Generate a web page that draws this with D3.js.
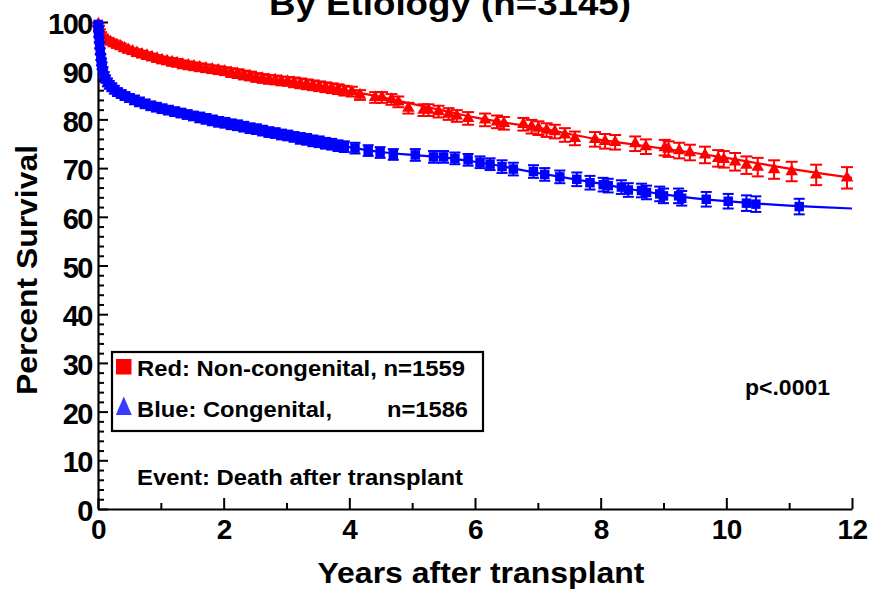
<!DOCTYPE html>
<html>
<head>
<meta charset="utf-8">
<script src="https://cdn.jsdelivr.net/npm/d3@7"></script>
<style>
  html, body { margin: 0; padding: 0; background: #fff; }
  svg { display: block; }
  text { font-family: "Liberation Sans", Arial, sans-serif; font-weight: bold; fill: #000; }
</style>
</head>
<body>
<svg id="chart" width="873" height="591"></svg>
<script>
// ---------- DATA ----------
const titleText = "By Etiology (n=3145)";
const xTitle = "Years after transplant";
const yTitle = "Percent Survival";
const xMajorTicks = [0, 2, 4, 6, 8, 10, 12];
const xMinorTicks = [1, 3, 5, 7, 9, 11];
const yMajorTicks = [0, 10, 20, 30, 40, 50, 60, 70, 80, 90, 100];
const yMinorTicks = [2,4,6,8,12,14,16,18,22,24,26,28,32,34,36,38,42,44,46,48,52,54,56,58,62,64,66,68,72,74,76,78,82,84,86,88,92,94,96,98];

// Non-congenital (red): [years, percent survival, error half-width]
const redPoints = [
  [0.005,99.6,0.3],[0.015,98.8,0.4],[0.03,98.0,0.5],[0.05,97.4,0.5],[0.08,96.9,0.5],[0.11,96.5,0.5],
  [0.15,96.2,0.5],[0.2,95.9,0.5],[0.25,95.6,0.6],[0.3,95.3,0.6],[0.36,95.0,0.6],[0.42,94.6,0.6],
  [0.48,94.3,0.6],[0.55,94.0,0.6],[0.62,93.7,0.7],[0.7,93.4,0.7],[0.78,93.1,0.7],[0.86,92.8,0.7],
  [0.94,92.5,0.7],[1.02,92.2,0.7],[1.1,92.0,0.7],[1.18,91.8,0.8],[1.26,91.6,0.8],[1.35,91.3,0.8],
  [1.44,91.1,0.8],[1.53,90.9,0.8],[1.62,90.7,0.8],[1.72,90.5,0.8],[1.82,90.3,0.8],[1.92,90.1,0.8],
  [2.02,89.9,0.8],[2.12,89.6,0.9],[2.22,89.4,0.9],[2.32,89.1,0.9],[2.42,88.9,0.9],[2.52,88.6,0.9],
  [2.62,88.4,0.9],[2.72,88.2,0.9],[2.82,88.1,0.9],[2.92,87.9,0.9],[3.02,87.8,0.9],[3.12,87.6,1.0],
  [3.22,87.4,1.0],[3.32,87.2,1.0],[3.42,87.0,1.0],[3.52,86.8,1.0],[3.62,86.6,1.0],[3.72,86.4,1.0],
  [3.82,86.2,1.0],[3.92,85.9,1.0],[4.04,85.7,1.0],[4.17,85.0,1.0],[4.41,84.5,1.1],[4.52,84.5,1.1],
  [4.67,84.1,1.1],[4.78,83.6,1.1],[4.94,82.3,1.1],[5.18,81.9,1.2],[5.26,81.9,1.2],[5.42,81.6,1.2],
  [5.58,81.1,1.2],[5.71,80.7,1.2],[5.89,80.2,1.3],[6.16,79.9,1.3],[6.35,79.5,1.3],[6.46,79.2,1.3],
  [6.77,79.0,1.3],[6.9,78.5,1.4],[7.01,78.2,1.4],[7.14,77.8,1.4],[7.27,77.5,1.4],[7.43,76.8,1.4],
  [7.59,76.1,1.4],[7.91,75.9,1.5],[8.07,75.5,1.5],[8.23,75.3,1.5],[8.55,75.0,1.5],[8.72,74.4,1.5],
  [9.02,74.2,1.6],[9.08,73.9,1.6],[9.25,73.6,1.6],[9.42,73.2,1.6],[9.66,72.7,1.7],[9.87,72.0,1.7],
  [9.96,71.8,1.7],[10.14,71.3,1.8],[10.32,70.6,1.8],[10.5,70.2,1.9],[10.76,69.7,1.9],[11.04,69.3,2.0],
  [11.43,68.6,2.1],[11.92,68.0,2.2]
];
// Congenital (blue): [years, percent survival, error half-width]
const bluePoints = [
  [0.003,99.5,0.3],[0.008,98.5,0.4],[0.013,97.5,0.5],[0.02,96.3,0.5],[0.027,95.2,0.6],[0.035,94.0,0.6],
  [0.045,92.8,0.6],[0.055,91.8,0.7],[0.065,91.0,0.7],[0.08,90.0,0.7],[0.1,89.0,0.7],[0.12,88.3,0.7],
  [0.15,87.6,0.8],[0.18,87.1,0.8],[0.22,86.6,0.8],[0.26,86.1,0.8],[0.31,85.6,0.8],[0.37,85.2,0.8],
  [0.43,84.8,0.8],[0.5,84.4,0.8],[0.58,84.0,0.9],[0.66,83.6,0.9],[0.75,83.2,0.9],[0.84,82.8,0.9],
  [0.93,82.5,0.9],[1.02,82.2,0.9],[1.12,81.9,0.9],[1.22,81.6,0.9],[1.32,81.3,0.9],[1.42,81.0,0.9],
  [1.52,80.7,0.9],[1.62,80.4,1.0],[1.72,80.1,1.0],[1.82,79.8,1.0],[1.92,79.5,1.0],[2.02,79.3,1.0],
  [2.12,79.0,1.0],[2.22,78.8,1.0],[2.32,78.5,1.0],[2.42,78.2,1.0],[2.52,78.0,1.0],[2.62,77.7,1.0],
  [2.72,77.4,1.0],[2.82,77.2,1.0],[2.92,76.9,1.0],[3.02,76.7,1.0],[3.12,76.4,1.0],[3.22,76.1,1.1],
  [3.32,75.9,1.1],[3.42,75.6,1.1],[3.52,75.4,1.1],[3.62,75.1,1.1],[3.72,74.9,1.1],[3.82,74.6,1.1],
  [3.92,74.4,1.1],[4.09,74.1,1.1],[4.3,73.6,1.1],[4.49,73.2,1.1],[4.7,72.8,1.1],[5.05,72.7,1.2],
  [5.34,72.3,1.2],[5.5,72.3,1.2],[5.68,72.0,1.2],[5.89,71.7,1.2],[6.08,71.2,1.2],[6.24,70.8,1.2],
  [6.43,70.3,1.3],[6.61,69.8,1.3],[6.93,69.3,1.3],[7.11,68.7,1.3],[7.35,68.2,1.3],[7.62,67.7,1.4],
  [7.83,67.0,1.4],[8.04,66.6,1.4],[8.12,66.4,1.4],[8.33,66.1,1.4],[8.44,65.5,1.4],[8.65,65.4,1.4],
  [8.73,65.0,1.4],[8.94,64.7,1.5],[9.0,64.3,1.5],[9.24,64.3,1.5],[9.29,63.8,1.5],[9.68,63.6,1.5],
  [10.03,63.2,1.5],[10.32,62.8,1.6],[10.47,62.6,1.6],[11.16,62.1,1.6]
];
// Fitted (parametric) survival curves: [years, percent]
const redCurve = [
  [0,100],[0.02,98.6],[0.05,97.5],[0.1,96.6],[0.25,95.5],[0.5,94.2],[1,92.3],[1.5,91.0],[2,90.0],
  [2.5,88.8],[3,87.8],[3.5,86.9],[4,85.8],[4.5,84.6],[5,83.2],[5.5,81.8],[6,80.4],[6.5,79.3],
  [7,78.3],[7.5,77.0],[8,75.8],[8.5,74.9],[9,74.0],[9.5,73.1],[10,72.1],[10.5,71.0],[11,69.9],
  [11.5,68.9],[12,68.0]
];
const blueCurve = [
  [0,100],[0.01,97.6],[0.02,95.6],[0.05,91.5],[0.1,89.0],[0.2,86.9],[0.3,85.7],[0.5,84.4],
  [0.75,83.2],[1,82.3],[1.5,80.7],[2,79.3],[2.5,78.0],[3,76.7],[3.5,75.4],[4,74.3],[4.5,73.3],
  [5,72.7],[5.5,72.2],[6,71.3],[6.5,70.2],[7,69.0],[7.5,67.9],[8,66.8],[8.5,65.6],[9,64.6],
  [9.5,63.8],[10,63.2],[10.5,62.7],[11,62.3],[11.5,62.0],[12,61.7]
];
const legendLabels = ["Red: Non-congenital, n=1559", "Blue: Congenital,", "n=1586"];
const noteText = "Event: Death after transplant";
const pText = "p<.0001";

// ---------- CHART ----------
const svg = d3.select("#chart");
const RED = "#ff0000", BLUE = "#0000ff";
const x = d3.scaleLinear().domain([0, 12]).range([98, 852]);
const y = d3.scaleLinear().domain([0, 100]).range([509, 22]);

// Axes
const xAxisG = svg.append("g").attr("transform", "translate(0,509)");
xAxisG.call(d3.axisBottom(x).tickValues(xMajorTicks).tickSize(-11).tickSizeOuter(0).tickPadding(10).tickFormat(d3.format("d")));
const xMinorG = svg.append("g").attr("transform", "translate(0,509)");
xMinorG.call(d3.axisBottom(x).tickValues(xMinorTicks).tickSize(-6).tickSizeOuter(0).tickFormat(""));
xMinorG.select(".domain").remove();

const yAxisG = svg.append("g").attr("transform", "translate(98,0)");
yAxisG.call(d3.axisLeft(y).tickValues(yMajorTicks).tickSize(-10).tickSizeOuter(0).tickPadding(6).tickFormat(d3.format("d")));
const yMinorG = svg.append("g").attr("transform", "translate(98,0)");
yMinorG.call(d3.axisLeft(y).tickValues(yMinorTicks).tickSize(-6).tickSizeOuter(0).tickFormat(""));
yMinorG.select(".domain").remove();

svg.selectAll(".domain").attr("stroke", "#000").attr("stroke-width", 2.2);
svg.selectAll(".tick line").attr("stroke", "#000").attr("stroke-width", 2);
xAxisG.selectAll(".tick text").attr("font-size", 28).attr("letter-spacing", -0.5)
  .style("font-family", "'Liberation Sans', Arial, sans-serif").style("font-weight", "bold").attr("fill", "#000");
yAxisG.selectAll(".tick text").attr("font-size", 29).attr("letter-spacing", -1.5).attr("dy", "0.4em")
  .style("font-family", "'Liberation Sans', Arial, sans-serif").style("font-weight", "bold").attr("fill", "#000");

// Curves
const line = d3.line().x(d => x(d[0])).y(d => y(d[1])).curve(d3.curveMonotoneX);
svg.append("path").datum(redCurve).attr("d", line).attr("fill", "none").attr("stroke", RED).attr("stroke-width", 2.2);
svg.append("path").datum(blueCurve).attr("d", line).attr("fill", "none").attr("stroke", BLUE).attr("stroke-width", 2.2);

function drawSeries(points, color, symbolType, size, cap) {
  const g = svg.append("g");
  const eb = g.selectAll("g.eb").data(points).enter().append("g").attr("class", "eb");
  eb.append("line").attr("x1", d => x(d[0])).attr("x2", d => x(d[0]))
    .attr("y1", d => y(d[1] - d[2])).attr("y2", d => y(d[1] + d[2]))
    .attr("stroke", color).attr("stroke-width", 2);
  eb.append("line").attr("x1", d => x(d[0]) - cap).attr("x2", d => x(d[0]) + cap)
    .attr("y1", d => y(d[1] + d[2])).attr("y2", d => y(d[1] + d[2]))
    .attr("stroke", color).attr("stroke-width", 2);
  eb.append("line").attr("x1", d => x(d[0]) - cap).attr("x2", d => x(d[0]) + cap)
    .attr("y1", d => y(d[1] - d[2])).attr("y2", d => y(d[1] - d[2]))
    .attr("stroke", color).attr("stroke-width", 2);
  const sym = d3.symbol().type(symbolType).size(size);
  g.selectAll("path.m").data(points).enter().append("path").attr("class", "m")
    .attr("d", sym).attr("transform", d => `translate(${x(d[0])},${y(d[1])})`)
    .attr("fill", color);
}
drawSeries(redPoints, RED, d3.symbolTriangle, 68, 6);
drawSeries(bluePoints, BLUE, d3.symbolSquare, 90, 5.5);

// Title
svg.append("text").attr("x", 450).attr("y", 15).attr("text-anchor", "middle")
  .attr("font-size", 34).attr("textLength", 362).attr("lengthAdjust", "spacingAndGlyphs").text(titleText);
// Axis titles
svg.append("text").attr("x", 481).attr("y", 583).attr("text-anchor", "middle")
  .attr("font-size", 30).attr("textLength", 327).attr("lengthAdjust", "spacingAndGlyphs").text(xTitle);
svg.append("text").attr("transform", "translate(37,270) rotate(-90)").attr("text-anchor", "middle")
  .attr("font-size", 30).attr("textLength", 250).attr("lengthAdjust", "spacingAndGlyphs").text(yTitle);

// Legend
svg.append("rect").attr("x", 112).attr("y", 352).attr("width", 371).attr("height", 79)
  .attr("fill", "#fff").attr("stroke", "#000").attr("stroke-width", 2.2);
svg.append("rect").attr("x", 116).attr("y", 359).attr("width", 15.5).attr("height", 15.5).attr("fill", RED);
svg.append("path").attr("d", "M123.8,396.5 L131.8,415 L115.8,415 Z").attr("fill", "#3a3aff");
svg.append("text").attr("x", 137).attr("y", 376).attr("font-size", 22)
  .attr("textLength", 328).attr("lengthAdjust", "spacingAndGlyphs").text(legendLabels[0]);
svg.append("text").attr("x", 137).attr("y", 416.5).attr("font-size", 22)
  .attr("textLength", 195).attr("lengthAdjust", "spacingAndGlyphs").text(legendLabels[1]);
svg.append("text").attr("x", 387).attr("y", 416.5).attr("font-size", 22)
  .attr("textLength", 81).attr("lengthAdjust", "spacingAndGlyphs").text(legendLabels[2]);

svg.append("text").attr("x", 137).attr("y", 485).attr("font-size", 22)
  .attr("textLength", 326).attr("lengthAdjust", "spacingAndGlyphs").text(noteText);
svg.append("text").attr("x", 745).attr("y", 395).attr("font-size", 22)
  .attr("textLength", 85).attr("lengthAdjust", "spacingAndGlyphs").text(pText);
</script>
</body>
</html>
